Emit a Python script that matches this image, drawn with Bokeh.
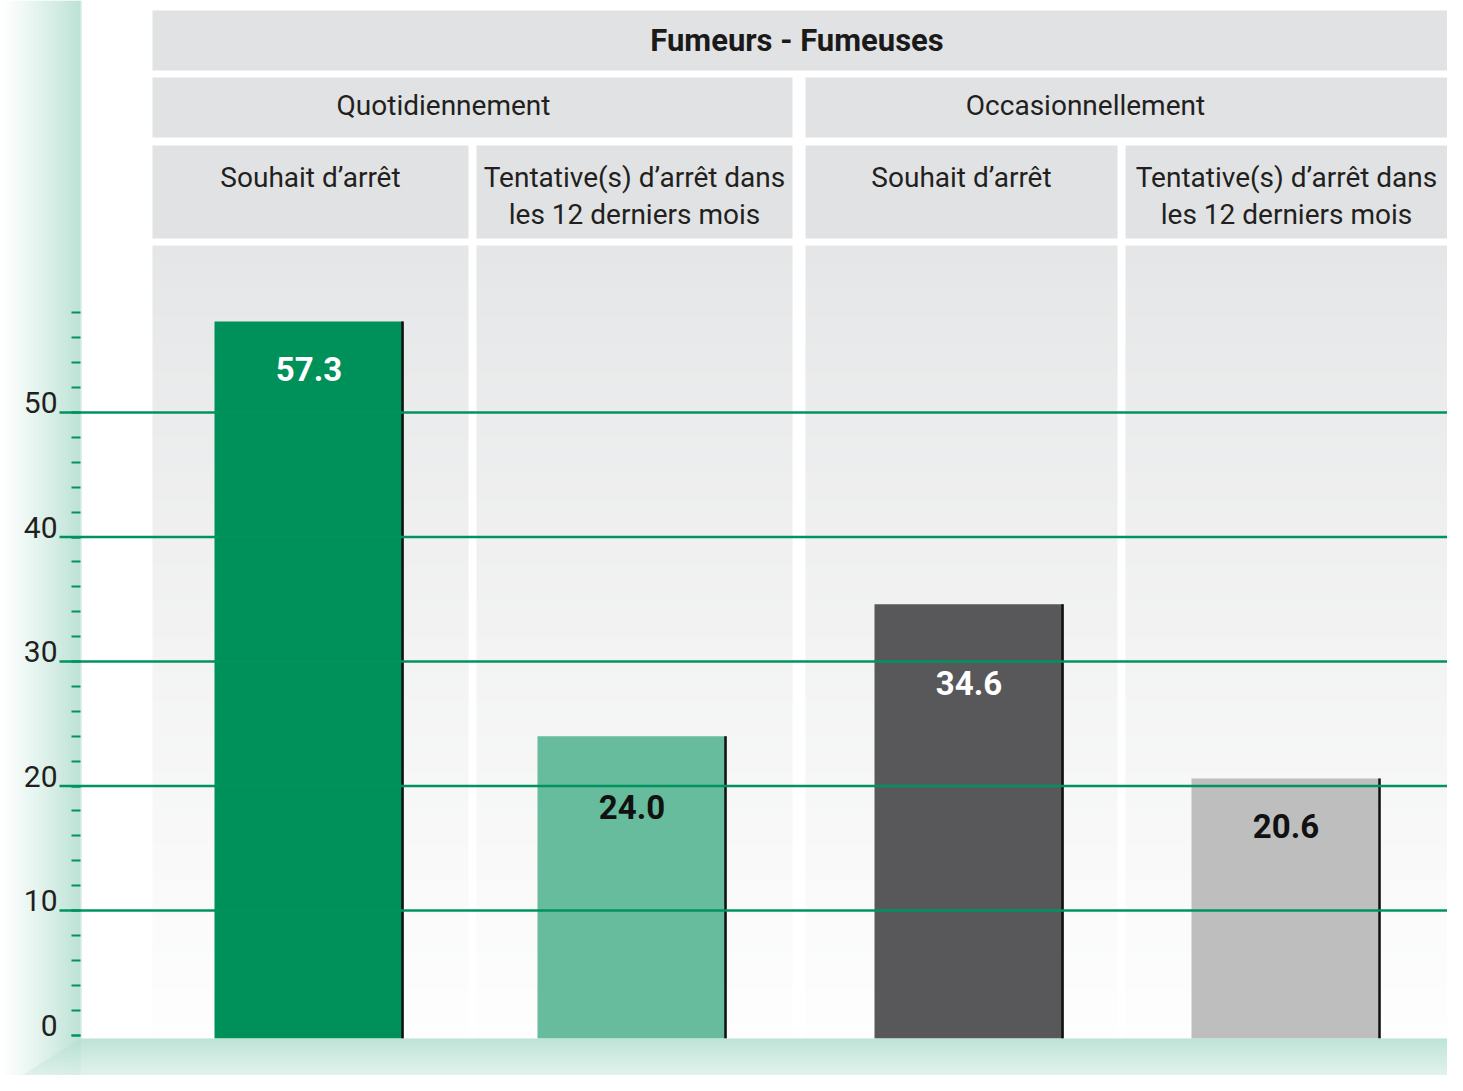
from bokeh.plotting import figure
from bokeh.models import Range1d, LinearAxis, FixedTicker, ColumnDataSource
from bokeh.core.properties import value
from bokeh.embed import file_html
from bokeh.resources import INLINE

# ---------------- data ----------------
title = "Fumeurs - Fumeuses"
groups = ["Quotidiennement", "Occasionnellement"]
categories = ["Souhait d\u2019arr\u00eat", "Tentative(s) d\u2019arr\u00eat dans\nles 12 derniers mois",
              "Souhait d\u2019arr\u00eat", "Tentative(s) d\u2019arr\u00eat dans\nles 12 derniers mois"]
values = [57.3, 24.0, 34.6, 20.6]
value_labels = ["57.3", "24.0", "34.6", "20.6"]
tick_values = [0, 10, 20, 30, 40, 50]
tick_labels = ["0", "10", "20", "30", "40", "50"]
minor_tick_values = list(range(0, 60, 2))

# ---------------- layout / style ----------------
W, H, OFF = 1447, 1075, 0          # figure size; offset of figure in the picture
Y0, S = 1034.5, 12.45              # ref pixel of value 0, pixels per unit


def Y(py):
    """reference-pixel row -> value units (for decorations only)"""
    return (Y0 - py) / S


bar_colors = ["#00905a", "#66bc9c", "#58585a", "#bebebe"]
label_colors = ["#ffffff", "#111111", "#ffffff", "#111111"]
label_offsets = [47, 71, 79, 47]
bar_x = [308.5, 631.5, 968.5, 1285.5]
bar_w = 189
col_x = [(152, 468), (476, 792), (805, 1117), (1125, 1447)]
grp_x = [(152, 792), (805, 1447)]
grp_label_x = [443, 1085]
FLOOR = 1038
GREEN = "#00935f"
HEAD = "#e1e2e3"
FONT = "Roboto"

p = figure(width=W, height=H, output_backend="svg", toolbar_location=None,
           x_range=Range1d(OFF, OFF + W), y_range=Range1d(Y(OFF + H), Y(OFF)),
           x_axis_location=None, y_axis_location=None, min_border=0)
p.outline_line_color = None
p.grid.visible = False
p.background_fill_color = "white"
p.border_fill_color = "white"


def mix(c1, c2, t):
    return "#%02x%02x%02x" % tuple(int(round(a + (b - a) * t)) for a, b in zip(c1, c2))


WHITE = (255, 255, 255)
MINT = (176, 221, 205)

# left band gradient
lb = dict(left=[], right=[], top=[], bottom=[], color=[])
for i in range(80):
    t = (i / 80) ** 1.15
    lb["left"].append(i); lb["right"].append(i + 1.2)
    lb["top"].append(Y(0)); lb["bottom"].append(Y(1091))
    lb["color"].append(mix(WHITE, MINT, t))
p.quad(left="left", right="right", top="top", bottom="bottom", color="color",
       source=ColumnDataSource(lb), line_color=None)
p.quad(left=[80], right=[81.5], top=[Y(0)], bottom=[Y(FLOOR)], color="#dcefe8", line_color=None)

# column backgrounds gradient
cb = dict(left=[], right=[], top=[], bottom=[], color=[])
step = 8
for (a, b) in col_x:
    yy = 245
    while yy < FLOOR:
        t = (yy - 245) / (FLOOR - 245)
        cb["left"].append(a); cb["right"].append(b)
        cb["top"].append(Y(yy)); cb["bottom"].append(Y(min(yy + step + 0.5, FLOOR)))
        cb["color"].append(mix((229, 230, 231), (254, 254, 254), t ** 0.9))
        yy += step
p.quad(left="left", right="right", top="top", bottom="bottom", color="color",
       source=ColumnDataSource(cb), line_color=None)

# header boxes
p.quad(left=[152], right=[1447], top=[Y(10)], bottom=[Y(70)], color=HEAD, line_color=None)
p.quad(left=[a for a, b in grp_x], right=[b for a, b in grp_x],
       top=[Y(77)] * 2, bottom=[Y(137)] * 2, color=HEAD, line_color=None)
p.quad(left=[a for a, b in col_x], right=[b for a, b in col_x],
       top=[Y(145)] * 4, bottom=[Y(238)] * 4, color=HEAD, line_color=None)

# header texts
p.text(x=[(152 + 1447) / 2 - 3], y=[Y(40)], text=[title], text_align="center", text_baseline="middle",
       text_font=value(FONT), text_font_style="bold", text_font_size="31px", text_color="#1a1a1a")
p.text(x=grp_label_x, y=[Y(105)] * 2, text=groups, text_align="center",
       text_baseline="middle", text_font=value(FONT), text_font_size="28px", text_color="#231f20")
p.text(x=[(a + b) / 2 for a, b in col_x], y=[Y(160)] * 4, text=categories, text_align="center",
       text_baseline="top", text_font=value(FONT), text_font_size="28px", text_color="#231f20",
       text_line_height=1.14)

# bars
src = ColumnDataSource(dict(x=bar_x, top=values, color=bar_colors, lab=value_labels,
                            lc=label_colors, off=label_offsets,
                            edge=[x + bar_w / 2 - 1 for x in bar_x]))
p.vbar(x="x", top="top", bottom=Y(FLOOR), width=bar_w, color="color", line_color=None, source=src)
p.segment(x0="edge", x1="edge", y0=Y(FLOOR), y1="top", line_color="#111111", line_width=2.5, source=src)

# floor gradient
fl = dict(left=[], right=[], top=[], bottom=[], color=[])
for j in range(FLOOR, 1092):
    t = (j - FLOOR) / 53
    fl["left"].append(max(0, 80 - (j - FLOOR) * 1.6)); fl["right"].append(1463)
    fl["top"].append(Y(j)); fl["bottom"].append(Y(j + 1.2))
    fl["color"].append(mix((180, 223, 208), (238, 247, 243), t ** 0.9))
p.quad(left="left", right="right", top="top", bottom="bottom", color="color",
       source=ColumnDataSource(fl), line_color=None)

# gridlines (over bars)
grid_vals = [v for v in tick_values if v > 0]
p.segment(x0=[59] * len(grid_vals), x1=[1463] * len(grid_vals), y0=grid_vals, y1=grid_vals,
          line_color=GREEN, line_width=2.5)

# value labels
p.text(x="x", y="top", text="lab", text_color="lc", y_offset="off", source=src,
       text_align="center", text_baseline="middle", text_font=value(FONT),
       text_font_style="bold", text_font_size="33px")

# y axis ticks
ax = LinearAxis(fixed_location=80,
                ticker=FixedTicker(ticks=tick_values, minor_ticks=minor_tick_values))
ax.axis_line_color = None
ax.major_tick_in = 0
ax.major_tick_out = 9
ax.minor_tick_in = 0
ax.minor_tick_out = 9
ax.major_tick_line_color = GREEN
ax.minor_tick_line_color = GREEN
ax.major_tick_line_width = 2
ax.minor_tick_line_width = 2
ax.major_label_text_color = None
ax.major_label_text_font_size = "1px"
p.add_layout(ax, "left")

# tick labels (sit just above their tick, as in the original)
p.text(x=[57] * len(tick_values), y=tick_values, text=tick_labels, text_align="right",
       text_baseline="middle", y_offset=-10, text_font=value(FONT),
       text_font_size="30px", text_color="#231f20")

open("out.html", "w").write(file_html(p, INLINE))
